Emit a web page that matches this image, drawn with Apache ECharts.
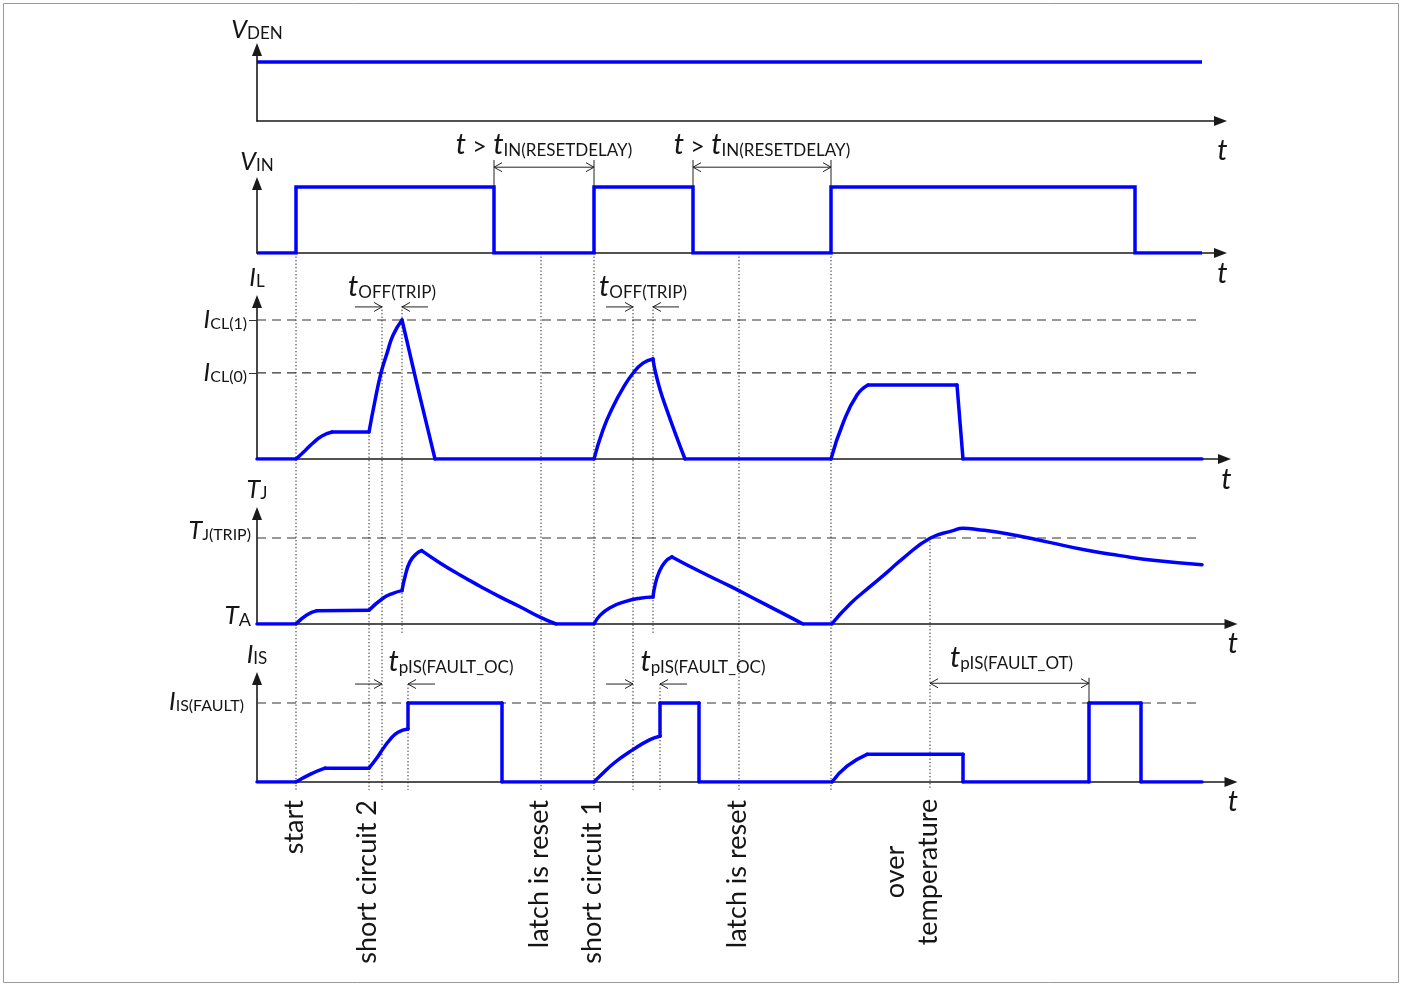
<!DOCTYPE html>
<html><head><meta charset="utf-8">
<script src="https://cdn.jsdelivr.net/npm/echarts@6/dist/echarts.min.js"></script>
<style>html,body{margin:0;padding:0;background:#fff}#c{width:1404px;height:985px}</style>
</head><body><div id="c"></div>
<script>
// ---------- data (time in t-units; levels normalised to each panel's reference level) ----------
const vdenT = [0, 94.5];
const vdenV = [1, 1];
const vinT = [0, 3.9, 3.9, 23.7, 23.7, 33.7, 33.7, 43.6, 43.6, 57.4, 57.4, 87.8, 87.8, 94.5];
const vinV = [0, 0, 1, 1, 0, 0, 1, 1, 0, 0, 1, 1, 0, 0];
const ilT = [0, 3.9, 4.8, 5.6, 6.5, 7.5, 11.2, 11.8, 12.4, 13.0, 13.6, 14.5, 14.97, 15.6, 16.3, 17.1, 17.8,
  33.7, 34.6, 35.6, 36.6, 37.6, 38.6, 39.6, 39.8, 40.3, 41.0, 41.8, 42.8, 57.4, 58.6, 60.0, 61.1, 70.0, 70.6, 94.5];
const ilV = [0, 0, 0.06, 0.115, 0.165, 0.194, 0.194, 0.42, 0.619, 0.76, 0.89, 1.0, 0.856, 0.66, 0.446, 0.21, 0,
  0, 0.21, 0.376, 0.51, 0.617, 0.69, 0.72, 0.64, 0.5, 0.35, 0.19, 0, 0, 0.257, 0.46, 0.532, 0.532, 0, 0];
const ilCorners = [0, 1, 5, 6, 11, 16, 17, 23, 28, 29, 32, 33, 34, 35];
const tjT = [0, 3.9, 4.97, 6.0, 11.2, 12.6, 13.6, 14.5, 14.8, 15.3, 15.97, 16.47, 18.3, 20.3, 22.3, 24.3, 26.3, 28.3, 29.9,
  33.7, 34.3, 35.3, 36.8, 38.3, 39.6, 39.8, 40.2, 40.8, 41.5, 44.3, 47.3, 50.3, 53.3, 54.6,
  57.47, 59.3, 61.3, 63.0, 64.6, 67.3, 69.6, 70.6, 72.0, 75.0, 79.0, 83.0, 86.3, 89.6, 94.5];
const tjV = [0, 0, 0.105, 0.155, 0.16, 0.3, 0.357, 0.388, 0.55, 0.725, 0.82, 0.853, 0.71, 0.57, 0.44, 0.315, 0.2, 0.08, 0,
  0, 0.1, 0.19, 0.26, 0.3, 0.314, 0.45, 0.6, 0.72, 0.78, 0.61, 0.44, 0.26, 0.08, 0,
  0, 0.233, 0.434, 0.6, 0.764, 0.997, 1.085, 1.113, 1.10, 1.05, 0.955, 0.857, 0.795, 0.74, 0.689];
const tjCorners = [0, 1, 3, 4, 7, 11, 18, 19, 24, 28, 33, 34, 48];
const isT = [0, 3.9, 5.3, 6.8, 11.2, 12.0, 12.6, 13.3, 14.1, 15.1, 15.1, 24.5, 24.5,
  33.7, 34.3, 35.8, 37.6, 39.3, 40.3, 40.3, 44.2, 44.2, 57.5, 59.0, 61.0, 70.6, 70.6, 83.2, 83.2, 88.4, 88.4, 94.5];
const isV = [0, 0, 0.097, 0.175, 0.175, 0.306, 0.42, 0.537, 0.63, 0.672, 1, 1, 0,
  0, 0.076, 0.25, 0.41, 0.537, 0.58, 1, 1, 0, 0, 0.2, 0.35, 0.35, 0, 0, 1, 1, 0, 0];
const isCorners = [0, 1, 3, 4, 9, 10, 11, 12, 13, 18, 19, 20, 21, 22, 24, 25, 26, 27, 28, 29, 30, 31];

// reference levels and their labels
const ilLevels = [0.619, 1];
const ilLevelNames = ['CL(0)', 'CL(1)'];
const tjLevels = [0, 1];
const isLevels = [1];
const levelEndT = [94.0, 94.5, 94.5];

// events / timing annotations (t-units)
const guideT = [3.9, 11.2, 12.5, 14.5, 15.1, 28.4, 33.7, 37.6, 39.6, 40.3, 48.2, 57.4, 67.3];
const guideFrom = [[1, 0], [2, 0.194], [2, 1.1], [2, 1.1], [4, 1.24], [1, 0], [1, 0], [2, 1.1], [2, 1.1], [4, 1.24], [1, 0], [1, 0], [3, 1.0]];
const guideTo = [[4, -0.1], [4, -0.1], [4, -0.1], [3, -0.12], [4, -0.1], [4, -0.1], [4, -0.1], [4, -0.1], [3, -0.12], [4, -0.1], [4, -0.1], [4, -0.1], [4, -0.1]];
const resetArrows = [[23.7, 33.7], [43.6, 57.4]];
const toffMarks = [[12.5, 14.5], [37.6, 39.6]];
const tpisOcMarks = [[12.5, 15.1], [37.6, 40.3]];
const tpisOtMark = [67.3, 83.2];
const eventT = [3.9, 11.2, 28.4, 33.7, 48.2, 67.3];
const eventNames = ['start', 'short circuit 2', 'latch is reset', 'short circuit 1', 'latch is reset', 'over\ntemperature'];
const axisNames = ['{i|V}{s|DEN}', '{i|V}{s|IN}', '{i|I}{s|L}', '{i|T}{s|J}', '{i|I}{s|IS}'];

// ---------- layout ----------
const F = 'Lato';
const C = '#151515';
const BLUE = '#0000ff';
const LEFT = 257;
const panels = [
  {axisY: 121, top: 49.5, unit: 59, end: 1220.5, tPad: 10, nameGap: 7},
  {axisY: 253, top: 183.5, unit: 66, end: 1220.5, tPad: 1, nameGap: 9},
  {axisY: 459, top: 301.5, unit: 139, end: 1224.5, tPad: 1, nameGap: 11},
  {axisY: 624, top: 513.5, unit: 86, end: 1231, tPad: 0, nameGap: 11},
  {axisY: 782, top: 678.5, unit: 79, end: 1231, tPad: 0, nameGap: 11}
];
const rich = {
  i: {fontFamily: F, fontStyle: 'italic', fontSize: 25, color: C, lineHeight: 30, verticalAlign: 'bottom'},
  ti: {fontFamily: F, fontStyle: 'italic', fontSize: 29, color: C, lineHeight: 34, verticalAlign: 'bottom'},
  s: {fontFamily: F, fontSize: 17, color: C, lineHeight: 21, verticalAlign: 'bottom'},
  ls: {fontFamily: F, fontSize: 16, color: C, lineHeight: 20, verticalAlign: 'bottom'},
  ta: {fontFamily: F, fontStyle: 'italic', fontSize: 26, color: C, lineHeight: 30, verticalAlign: 'bottom'},
  tas: {fontFamily: F, fontSize: 18, color: C, lineHeight: 21, verticalAlign: 'bottom'},
  g: {fontFamily: F, fontSize: 25, color: C, lineHeight: 30, verticalAlign: 'bottom'}
};
const axisLineStyle = {color: '#1a1a1a', width: 1.6};

const zip = (a, b) => a.map((x, k) => [x, b[k]]);
const grids = [], xAxes = [], yAxes = [], series = [];
panels.forEach((p, i) => {
  grids.push({left: LEFT, top: p.top, width: p.end - LEFT, height: p.axisY - p.top});
  xAxes.push({
    type: 'value', gridIndex: i, min: 0, max: (p.end - LEFT) / 10,
    axisLine: {show: true, onZero: false, symbol: ['none', 'triangle'], symbolSize: [10, 13], lineStyle: axisLineStyle},
    axisTick: {show: false}, axisLabel: {show: false}, splitLine: {show: false},
    name: '{ti|t}', nameLocation: 'end', nameGap: 2,
    nameTextStyle: {rich: rich, align: 'center', verticalAlign: 'top', padding: [p.tPad, 0, 0, 0]}
  });
  yAxes.push({
    type: 'value', gridIndex: i, min: 0, max: (p.axisY - p.top) / p.unit,
    axisLine: {show: true, onZero: false, symbol: ['none', 'triangle'], symbolSize: [10, 13], lineStyle: axisLineStyle},
    axisTick: {show: false}, axisLabel: {show: false}, splitLine: {show: false},
    name: axisNames[i], nameLocation: 'end', nameGap: p.nameGap,
    nameTextStyle: {rich: rich, align: 'center'}
  });
});
// level labels on y axes
yAxes[2].axisLabel = {show: true, customValues: ilLevels, margin: 10, rich: rich, padding: [0, 0, 6, 0],
  formatter: v => '{i|I}{ls|' + ilLevelNames[ilLevels.findIndex(l => Math.abs(l - v) < 1e-6)] + '}'};
yAxes[2].axisTick = {show: true, customValues: ilLevels, length: 8, lineStyle: {color: '#333', width: 1}};
yAxes[3].axisLabel = {show: true, customValues: tjLevels, margin: 6, rich: rich, padding: [0, 0, 20, 0],
  formatter: v => v > 0.5 ? '{i|T}{ls|J(TRIP)}' : '{ta|T}{tas|A}'};
yAxes[4].axisLabel = {show: true, customValues: isLevels, margin: 13, rich: rich, padding: [0, 0, 8, 0],
  formatter: () => '{i|I}{ls|IS(FAULT)}'};

// a signal is drawn as pieces between its sharp corners; curved pieces are smoothed
function sig(i, t, v, corners) {
  const pts = zip(t, v);
  const cs = corners || pts.map((_, k) => k);
  if (!corners) {
    series.push({type: 'line', xAxisIndex: i, yAxisIndex: i, data: pts, showSymbol: false, symbol: 'none',
      lineStyle: {color: BLUE, width: 3.5, join: 'miter'}, z: 5, animation: false, silent: true});
    return;
  }
  for (let k = 0; k < cs.length - 1; k++) {
    const piece = pts.slice(cs[k], cs[k + 1] + 1);
    series.push({type: 'line', xAxisIndex: i, yAxisIndex: i, data: piece, showSymbol: false, symbol: 'none',
      smooth: piece.length > 2 ? 0.5 : false,
      lineStyle: {color: BLUE, width: 3.5, cap: 'round', join: 'round'}, z: 5, animation: false, silent: true});
  }
}
function lvl(i, v, tEnd) {
  series.push({type: 'line', xAxisIndex: i, yAxisIndex: i, data: [[0, v], [tEnd, v]], showSymbol: false, symbol: 'none',
    lineStyle: {color: '#333', width: 1.2, type: [9, 6]}, z: 2, animation: false, silent: true});
}
ilLevels.forEach(v => lvl(2, v, levelEndT[0]));
lvl(3, tjLevels[1], levelEndT[1]);
isLevels.forEach(v => lvl(4, v, levelEndT[2]));
sig(0, vdenT, vdenV, null);
sig(1, vinT, vinV, null);
sig(2, ilT, ilV, ilCorners);
sig(3, tjT, tjV, tjCorners);
sig(4, isT, isV, isCorners);

const chart = echarts.init(document.getElementById('c'), null, {renderer: 'canvas'});
chart.setOption({animation: false, backgroundColor: '#fff', grid: grids, xAxis: xAxes, yAxis: yAxes, series: series});

// ---------- annotations, positioned through the chart's own scales ----------
const P = (i, t, v) => chart.convertToPixel({xAxisIndex: i, yAxisIndex: i}, [t, v]);
const G = [];
const thin = {stroke: '#222', lineWidth: 1};
function line(a, b, style) { G.push({type: 'line', shape: {x1: a[0], y1: a[1], x2: b[0], y2: b[1]}, style: style, z: 10, silent: true}); }
function head(p, dir) {
  G.push({type: 'polyline', shape: {points: [[p[0] - dir * 8, p[1] - 4.5], [p[0], p[1]], [p[0] - dir * 8, p[1] + 4.5]]},
    style: {stroke: '#222', lineWidth: 1, fill: null}, z: 10, silent: true});
}
function text(x, y, str, extra) {
  G.push(Object.assign({type: 'text', x: x, y: y, z: 12, silent: true,
    style: Object.assign({text: str, rich: rich, align: 'center', verticalAlign: 'middle', fill: C}, extra || {})}));
}
// dotted event guides
guideT.forEach((t, k) => {
  line(P(guideFrom[k][0], t, guideFrom[k][1]), P(guideTo[k][0], t, guideTo[k][1]),
    {stroke: '#222', lineWidth: 1, lineDash: [1.3, 2.2]});
});
// reset-delay arrows (VIN panel)
resetArrows.forEach(([a, b]) => {
  line(P(1, a, 1), P(1, a, 1.41), thin);
  line(P(1, b, 1), P(1, b, 1.41), thin);
  const pa = P(1, a, 1.3), pb = P(1, b, 1.3);
  line(pa, pb, thin); head(pa, -1); head(pb, 1);
  const c = P(1, (a + b) / 2, 1.68);
  text(c[0], c[1], '{ti|t}{g| > }{ti|t}{s|IN(RESETDELAY)}');
});
// toff(trip) arrows (IL panel)
toffMarks.forEach(([a, b]) => {
  const pa = P(2, a, 1.094), pb = P(2, b, 1.094);
  line(P(2, a - 2.7, 1.094), pa, thin); head(pa, 1);
  line(P(2, b + 2.6, 1.094), pb, thin); head(pb, -1);
  const c = P(2, (a + b) / 2, 1.26);
  text(c[0], c[1], '{ti|t}{s|OFF(TRIP)}');
});
// tpIS(FAULT_OC) arrows (IS panel)
tpisOcMarks.forEach(([a, b]) => {
  const pa = P(4, a, 1.24), pb = P(4, b, 1.24);
  line(P(4, a - 2.7, 1.24), pa, thin); head(pa, 1);
  line(P(4, b + 2.7, 1.24), pb, thin); head(pb, -1);
  const c = P(4, b + 4.3, 1.56);
  text(c[0], c[1], '{ti|t}{s|pIS(FAULT_OC)}');
});
// tpIS(FAULT_OT) arrow
(function () {
  const [a, b] = tpisOtMark;
  line(P(4, b, 1.0), P(4, b, 1.32), thin);
  const pa = P(4, a, 1.25), pb = P(4, b, 1.25);
  line(pa, pb, thin); head(pa, -1); head(pb, 1);
  const c = P(4, (a + b) / 2 + 0.2, 1.61);
  text(c[0], c[1], '{ti|t}{s|pIS(FAULT_OT)}');
})();
// event labels (rotated)
eventT.forEach((t, k) => {
  const p = P(4, t, 0);
  const multi = eventNames[k].indexOf('\n') >= 0;
  G.push({type: 'text', x: multi ? p[0] - 18 : p[0] - 2, y: multi ? p[1] + 90 : p[1] + 18, rotation: Math.PI / 2, z: 12, silent: true,
    style: {text: eventNames[k], fontFamily: F, fontSize: 27, lineHeight: 33, fill: C,
      align: multi ? 'center' : 'right', verticalAlign: 'middle'}});
});
// frame
G.push({type: 'rect', shape: {x: 3.5, y: 3.5, width: 1395, height: 979}, style: {stroke: '#9a9a9a', lineWidth: 1, fill: null}, z: 0, silent: true});
chart.setOption({graphic: G});
</script>
</body></html>
